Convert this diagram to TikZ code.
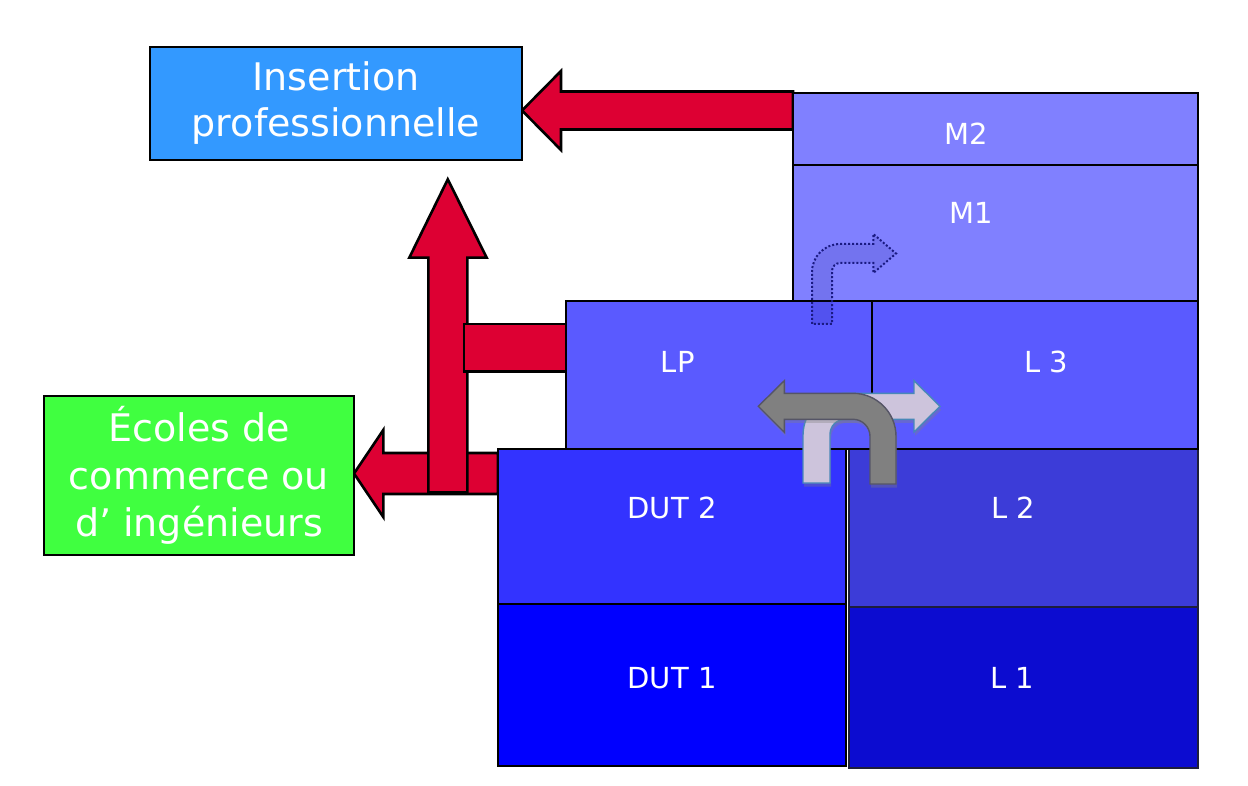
\documentclass[tikz,border=0pt]{standalone}
\usepackage{fontspec}
\setmainfont{DejaVu Sans}
\usetikzlibrary{shadows}
\definecolor{redA}{RGB}{221,0,51}
\definecolor{insC}{RGB}{51,153,255}
\definecolor{ecoC}{RGB}{64,255,64}
\definecolor{mC}{RGB}{128,128,255}
\definecolor{lpC}{RGB}{90,90,255}
\definecolor{dtwoC}{RGB}{51,51,255}
\definecolor{ltwoC}{RGB}{60,60,216}
\definecolor{doneC}{RGB}{0,0,255}
\definecolor{loneC}{RGB}{12,12,208}
\definecolor{grayA}{RGB}{128,128,128}
\definecolor{grayB}{RGB}{85,85,102}
\definecolor{lavA}{RGB}{205,196,220}
\definecolor{steelA}{RGB}{72,136,184}
\definecolor{navyA}{RGB}{26,26,130}
\definecolor{thinC}{RGB}{30,30,60}
\begin{document}
\begin{tikzpicture}[x=0.5pt,y=-0.5pt,
  box/.style={draw=black,line width=1.4pt,inner sep=0pt,outer sep=0pt},
  thinbox/.style={draw=thinC,line width=0.8pt,inner sep=0pt,outer sep=0pt},
  bigtxt/.style={text=white,align=center},
  lbl/.style={text=white,inner sep=0pt,outer sep=0pt,font=\fontsize{14.5}{17}\selectfont},
  redarrow/.style={fill=redA,draw=black,line width=1.3pt,line join=miter},
  dotarrow/.style={fill=navyA,fill opacity=0.12,draw=navyA,draw opacity=1,line width=1pt,dash pattern=on 1pt off 1pt},
  lightarrow/.style={fill=lavA,draw=steelA,line width=0.7pt,drop shadow={shadow xshift=0.6pt,shadow yshift=-1.8pt,opacity=0.35}},
  grayarrow/.style={fill=grayA,draw=grayB,line width=0.7pt,drop shadow={shadow xshift=0.6pt,shadow yshift=-1.8pt,opacity=0.35}}
]
\useasboundingbox (0,0) rectangle (1248,786);

% red connectors
\draw[redarrow] (498,453) -- (383.3,453) -- (383.3,430) -- (354,473.5) -- (383.3,517) -- (383.3,494) -- (498,494) -- cycle;
\draw[redarrow] (428.3,492.3) -- (428.3,257.7) -- (409.3,257.7) -- (447.8,179.3) -- (486.7,257.7) -- (467.3,257.7) -- (467.3,492.3) -- cycle;
\draw[redarrow] (464,324) rectangle (566,371.7);
\draw[redarrow] (793,91.5) -- (561,91.5) -- (561,71) -- (522,110.5) -- (561,150) -- (561,129.5) -- (793,129.5) -- cycle;

% boxes
\node[box,fill=insC,minimum width=186pt,minimum height=56.5pt,bigtxt,font=\fontsize{19}{23}\selectfont] (ins) at (336,103.5) {Insertion\\professionnelle};
\node[box,fill=ecoC,minimum width=155pt,minimum height=79.5pt,bigtxt,font=\fontsize{19}{23.8}\selectfont] (eco) at (199,475.5) {Écoles de\\commerce ou\\d’ ingénieurs};

\node[thinbox,fill=loneC,minimum width=174.5pt,minimum height=80.5pt] (L1) at (1023.5,687.5) {};
\node[thinbox,fill=ltwoC,minimum width=174.5pt,minimum height=79pt] (L2) at (1023.5,528) {};
\node[box,fill=mC,minimum width=202.5pt,minimum height=36pt] (M2) at (995.5,129) {};
\node[box,fill=mC,minimum width=202.5pt,minimum height=68pt] (M1) at (995.5,233) {};
\node[box,fill=lpC,minimum width=153pt,minimum height=74pt] (LP) at (719,375) {};
\node[box,fill=lpC,minimum width=163pt,minimum height=74pt] (L3) at (1035,375) {};
\node[box,fill=dtwoC,minimum width=174pt,minimum height=77.5pt] (DUT2) at (672,526.5) {};
\node[box,fill=doneC,minimum width=174pt,minimum height=81pt] (DUT1) at (672,685) {};

% labels
\node[lbl] (tM2) at (966.5,133.8) {M2};
\node[lbl] (tM1) at (971,213.3) {M1};
\node[lbl] (tLP) at (677.7,361.7) {LP};
\node[lbl] (tL3) at (1046,361.7) {L 3};
\node[lbl] (tDUT2) at (672,507.5) {DUT 2};
\node[lbl] (tL2) at (1013,507.5) {L 2};
\node[lbl] (tDUT1) at (672,678) {DUT 1};
\node[lbl] (tL1) at (1012,678) {L 1};

% dotted bent arrow
\draw[dotarrow] (812,324) -- (812,272) .. controls (812,256.5) and (824.5,244) .. (840,244) -- (873.3,244) -- (873.3,234) -- (896,253.5) -- (873.3,273) -- (873.3,263) -- (840,263) .. controls (835.6,263) and (832,266.6) .. (832,271) -- (832,324) -- cycle;

% U-turn arrows
\draw[lightarrow] (803,483) -- (803,435.3) .. controls (803,412) and (821.8,393.3) .. (845,393.3) -- (914,393.3) -- (914,380.7) -- (940,406.3) -- (914,432) -- (914,419.3) -- (845,419.3) .. controls (836.7,419.3) and (830,426) .. (830,434.3) -- (830,483) -- cycle;
\draw[grayarrow] (870,484) -- (870,436.3) .. controls (870,427) and (862.4,419.3) .. (853,419.3) -- (784.3,419.3) -- (784.3,432.3) -- (758.3,406.3) -- (784.3,380.7) -- (784.3,393.3) -- (853,393.3) .. controls (876.7,393.3) and (896,412.6) .. (896,436.3) -- (896,484) -- cycle;
\end{tikzpicture}
\end{document}
